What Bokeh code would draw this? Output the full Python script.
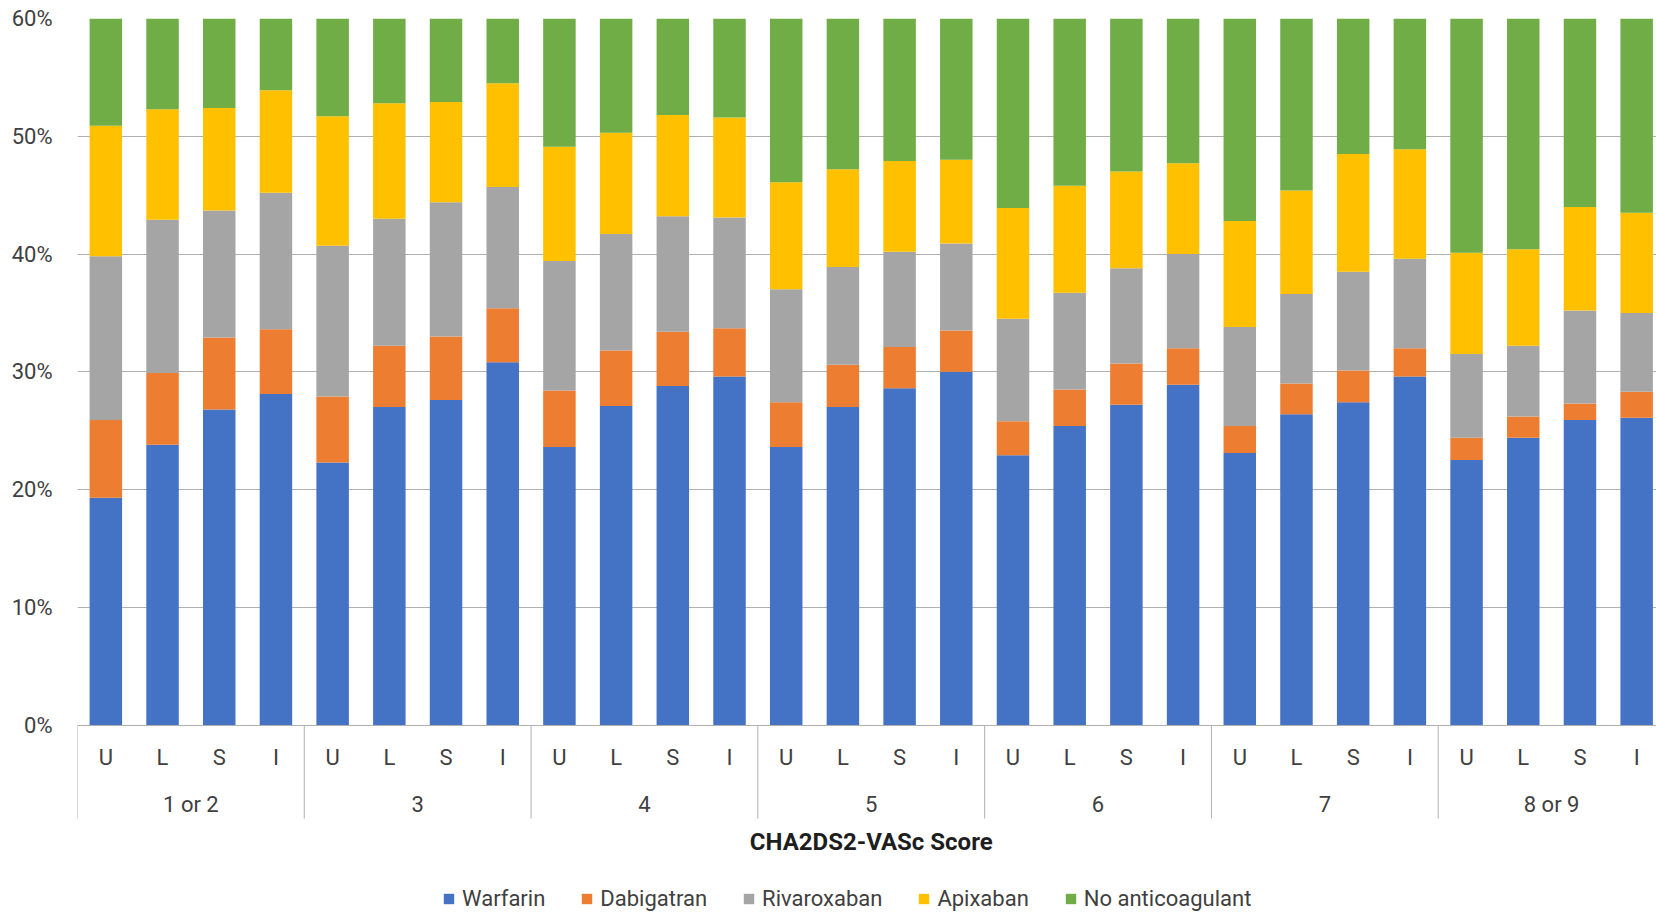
from bokeh.plotting import figure
from bokeh.models import (ColumnDataSource, Range1d, FixedTicker,
                          NumeralTickFormatter, Legend, LegendItem)
from bokeh.core.properties import value
from bokeh.embed import file_html
from bokeh.resources import INLINE

# ---------------- data (percent of patients) ----------------
groups = ["1 or 2", "3", "4", "5", "6", "7", "8 or 9"]
subgroups = ["U", "L", "S", "I"]
series_names = ["Warfarin", "Dabigatran", "Rivaroxaban", "Apixaban", "No anticoagulant"]
y_ticks = [0, 10, 20, 30, 40, 50, 60]
x_title = "CHA2DS2-VASc Score"

warfarin = [19.3, 23.8, 26.8, 28.1, 22.3, 27.0, 27.6, 30.8, 23.6, 27.1, 28.8, 29.6,
            23.6, 27.0, 28.6, 30.0, 22.9, 25.4, 27.2, 28.9, 23.1, 26.4, 27.4, 29.6,
            22.5, 24.4, 25.9, 26.1]
dabigatran = [6.6, 6.1, 6.1, 5.5, 5.6, 5.2, 5.4, 4.6, 4.8, 4.7, 4.6, 4.1,
              3.8, 3.6, 3.5, 3.5, 2.9, 3.1, 3.5, 3.1, 2.3, 2.6, 2.7, 2.4,
              1.9, 1.8, 1.4, 2.2]
rivaroxaban = [13.9, 13.0, 10.8, 11.6, 12.8, 10.8, 11.4, 10.3, 11.0, 9.9, 9.8, 9.4,
               9.6, 8.3, 8.1, 7.4, 8.7, 8.2, 8.1, 8.0, 8.4, 7.6, 8.4, 7.6,
               7.1, 6.0, 7.9, 6.7]
apixaban = [11.1, 9.4, 8.7, 8.7, 11.0, 9.8, 8.5, 8.8, 9.7, 8.6, 8.6, 8.5,
            9.1, 8.3, 7.7, 7.1, 9.4, 9.1, 8.2, 7.7, 9.0, 8.8, 10.0, 9.3,
            8.6, 8.2, 8.8, 8.5]
no_anticoagulant = [49.1, 47.7, 47.6, 46.1, 48.3, 47.2, 47.1, 45.5, 50.9, 49.7, 48.2, 48.4,
                    53.9, 52.8, 52.1, 52.0, 56.1, 54.2, 53.0, 52.3, 57.2, 54.6, 51.5, 51.1,
                    59.9, 59.6, 56.0, 56.5]

colors = ["#4472C4", "#ED7D31", "#A5A5A5", "#FFC000", "#70AD47"]

# ---------------- derived ----------------
n_sub = len(subgroups)
cats = [(g, s) for g in groups for s in subgroups]
xpos = [i + 0.5 for i in range(len(cats))]
keys = ["warfarin", "dabigatran", "rivaroxaban", "apixaban", "none"]
source = ColumnDataSource(dict(
    x=xpos,
    warfarin=[v / 100 for v in warfarin],
    dabigatran=[v / 100 for v in dabigatran],
    rivaroxaban=[v / 100 for v in rivaroxaban],
    apixaban=[v / 100 for v in apixaban],
    none=[v / 100 for v in no_anticoagulant],
))

FONT = "Roboto"
TXT = "#404040"
GRID = "#b0b0b0"

# frame: 60% at y=18px, 0% at y=724.5px, extended down to the bottom edge so the
# two-level category labels, title and legend can sit below the 0 line
PX_PER_UNIT = (724.5 - 18) / 0.6
def below(px):
    return -px / PX_PER_UNIT

p = figure(width=1656, height=912,
           x_range=Range1d(0, 27.85), y_range=Range1d(below(912 - 724.5), 0.6),
           output_backend="svg", toolbar_location=None, x_axis_location=None,
           min_border_left=77, min_border_right=0, min_border_top=18, min_border_bottom=0)
p.outline_line_color = None

renderers = p.vbar_stack(keys, x="x", width=0.573, color=colors, line_color=None, source=source)

# y axis
yt = FixedTicker(ticks=[t / 100 for t in y_ticks])
p.yaxis.ticker = yt
p.ygrid.ticker = yt
p.yaxis.formatter = NumeralTickFormatter(format="0%")
p.yaxis.axis_line_color = None
p.yaxis.major_tick_line_color = None
p.yaxis.minor_tick_line_color = None
p.yaxis.major_label_standoff = 19
p.yaxis.major_label_text_font = FONT
p.yaxis.major_label_text_font_size = "22px"
p.yaxis.major_label_text_color = TXT
p.ygrid.grid_line_color = GRID
p.ygrid.grid_line_width = 1
p.xgrid.visible = False

# group separators below the 0 line (category-axis style)
bounds_x = [n_sub * k for k in range(len(groups) + 1)]
sep_src = ColumnDataSource(dict(x=bounds_x))
p.segment(x0="x", x1="x", y0=0, y1=below(818 - 724.5), source=sep_src,
          line_color=GRID, line_width=1)

# category labels
sub_src = ColumnDataSource(dict(x=xpos, text=[s for (g, s) in cats]))
p.text(x="x", y=below(32), text="text", source=sub_src,
       text_align="center", text_baseline="middle",
       text_font=value(FONT), text_font_size="22px", text_color=TXT)
grp_src = ColumnDataSource(dict(x=[n_sub * k + n_sub / 2 for k in range(len(groups))], text=groups))
p.text(x="x", y=below(79), text="text", source=grp_src,
       text_align="center", text_baseline="middle",
       text_font=value(FONT), text_font_size="22px", text_color=TXT)
title_src = ColumnDataSource(dict(x=[len(cats) / 2], text=[x_title]))
p.text(x="x", y=below(117), text="text", source=title_src,
       text_align="center", text_baseline="middle",
       text_font=value(FONT), text_font_size="24px", text_font_style="bold", text_color="#1e1e1e")

legend = Legend(
    items=[LegendItem(label=nm, renderers=[r]) for nm, r in zip(series_names, renderers)],
    orientation="horizontal", location=(365, 1),
    glyph_width=13, glyph_height=13, label_standoff=7, spacing=35,
    padding=0, margin=0, border_line_color=None, background_fill_alpha=0,
    label_text_font=FONT, label_text_font_size="22px", label_text_color=TXT, label_height=20,
)
p.add_layout(legend, "center")

open("out.html", "w").write(file_html(p, INLINE))
